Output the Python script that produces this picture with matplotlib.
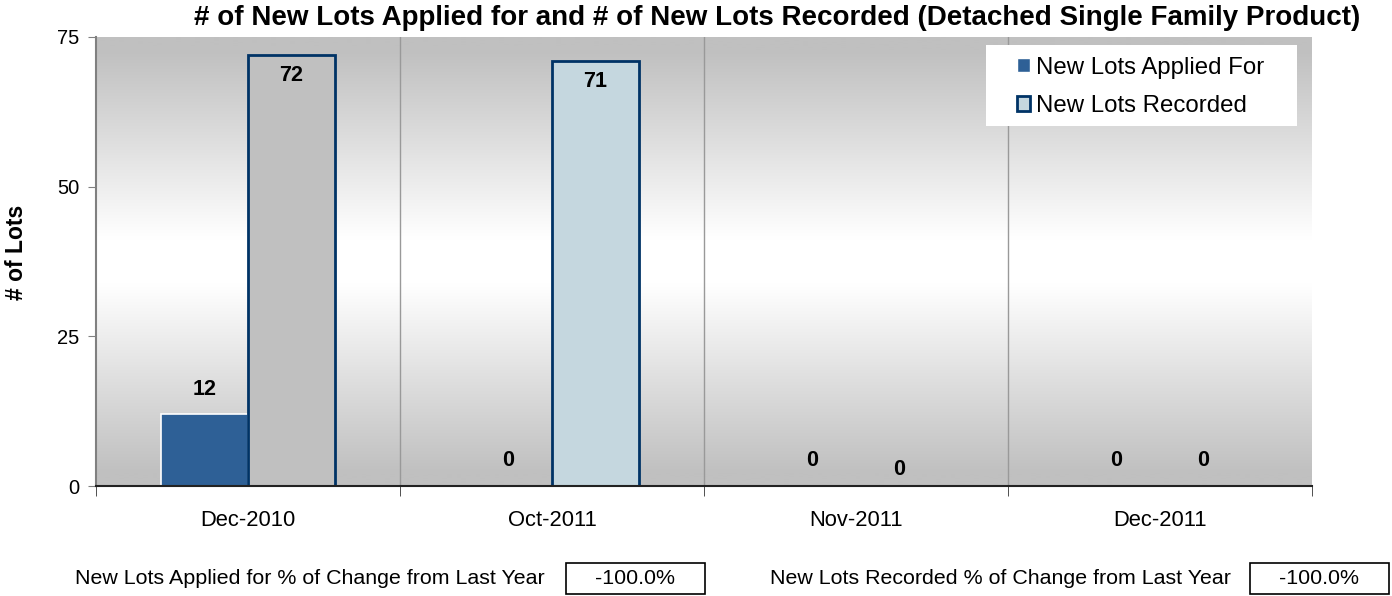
import matplotlib.pyplot as plt
import numpy as np
from matplotlib.patches import Rectangle, Patch

plt.rcParams['font.family'] = ['Liberation Sans', 'DejaVu Sans']

months = ['Dec-2010', 'Oct-2011', 'Nov-2011', 'Dec-2011']
applied = [12, 0, 0, 0]
recorded = [72, 71, 0, 0]
pct_labels = ['New Lots Applied for % of Change from Last Year',
              'New Lots Recorded % of Change from Last Year']
pct_values = ['-100.0%', '-100.0%']

APPLIED_COLOR = '#2E6096'
RECORDED_COLOR = '#C5D7DF'
RECORDED_FIRST = '#C0C0C0'
NAVY = '#003366'

fig = plt.figure(figsize=(13.92, 5.96), dpi=100)
ax = fig.add_axes([96 / 1392, 110 / 596, 1216 / 1392, 449 / 596])

x = np.arange(len(months))
w = 0.286
off = 0.143

# gray -> white -> gray background band
t = np.linspace(0, 1, 400)
shade = 1 - np.clip((np.abs(t - 0.5) - 0.05) / 0.42, 0, 1)
grey = (192 + 63 * shade) / 255
bg = np.stack([grey, grey, grey], axis=-1)[:, None, :]
ax.imshow(bg, extent=[-0.5, 3.5, 0, 75], aspect='auto', zorder=0,
          interpolation='bilinear')

ax.bar(x - off, applied, w, color=APPLIED_COLOR, edgecolor='white',
       linewidth=1.2, zorder=3)
rec_colors = [RECORDED_FIRST] + [RECORDED_COLOR] * (len(recorded) - 1)
ax.bar(x + off, recorded, w, color=rec_colors, edgecolor=NAVY,
       linewidth=2, zorder=3)

# value labels
for xi, v in zip(x - off, applied):
    ax.annotate(str(v), (xi, v), xytext=(0, 18), textcoords='offset points',
                ha='center', va='center', fontsize=15.5, fontweight='bold', zorder=5)
for i, (xi, v) in enumerate(zip(x + off, recorded)):
    if v > 50:
        dy = -15
    elif v == 0 and i == 2:
        dy = 12
    else:
        dy = 18
    ax.annotate(str(v), (xi, v), xytext=(0, dy), textcoords='offset points',
                ha='center', va='center', fontsize=15.5, fontweight='bold', zorder=5)

for b in [0.5, 1.5, 2.5]:
    ax.axvline(b, color='#999999', lw=1, zorder=1)

ax.set_xlim(-0.5, 3.5)
ax.set_ylim(0, 75)
ax.set_yticks([0, 25, 50, 75])
ax.set_xticks(x)
ax.set_xticklabels(months)
ax.set_xticks([-0.5, 0.5, 1.5, 2.5, 3.5], minor=True)
ax.tick_params(axis='x', which='major', length=0, pad=17, labelsize=15.8)
ax.tick_params(axis='x', which='minor', length=7, color='#333333', direction='out')
ax.tick_params(axis='y', length=6, color='#808080', labelsize=14.5, pad=6)

for s in ['top', 'right']:
    ax.spines[s].set_visible(False)
ax.spines['left'].set_color('#808080')
ax.spines['left'].set_linewidth(1.5)
ax.spines['bottom'].set_color('#222222')
ax.spines['bottom'].set_linewidth(1.5)
ax.spines['bottom'].set_zorder(4)

ax.set_ylabel('# of Lots', fontsize=16.5, fontweight='bold')
ax.yaxis.set_label_coords(-0.056, 0.52)

# legend on its own white panel
ax.add_patch(Rectangle((0.732, 0.802), 0.256, 0.180, transform=ax.transAxes,
                       facecolor='white', edgecolor='none', zorder=6))
handles = [Patch(facecolor=APPLIED_COLOR, edgecolor='white', label='New Lots Applied For'),
           Patch(facecolor=RECORDED_COLOR, edgecolor=NAVY, linewidth=2,
                 label='New Lots Recorded')]
leg = ax.legend(handles=handles, loc='upper left', bbox_to_anchor=(0.757, 0.956),
                borderaxespad=0, borderpad=0, fontsize=17.3, frameon=False,
                handlelength=0.55, handleheight=0.55, handletextpad=0.25,
                labelspacing=0.68)
leg.set_zorder(7)

fig.text(777 / 1392, 1 - 18 / 596,
         '# of New Lots Applied for and # of New Lots Recorded (Detached Single Family Product)',
         ha='center', va='center', fontsize=20, fontweight='bold')

# percentage-change boxes below the chart
text_x = [75, 770]
box_x = [566, 1250]
for lbl, val, tx, bx in zip(pct_labels, pct_values, text_x, box_x):
    fig.text(tx / 1392, 1 - 579 / 596, lbl, ha='left', va='center', fontsize=15.4)
    fig.patches.append(Rectangle((bx / 1392, 1 - 594 / 596), 139 / 1392, 31 / 596,
                                 transform=fig.transFigure, facecolor='white',
                                 edgecolor='black', linewidth=1.2))
    fig.text((bx + 69.5) / 1392, 1 - 578 / 596, val, ha='center', va='center',
             fontsize=15.4)

fig.savefig('out.png', dpi=100)
